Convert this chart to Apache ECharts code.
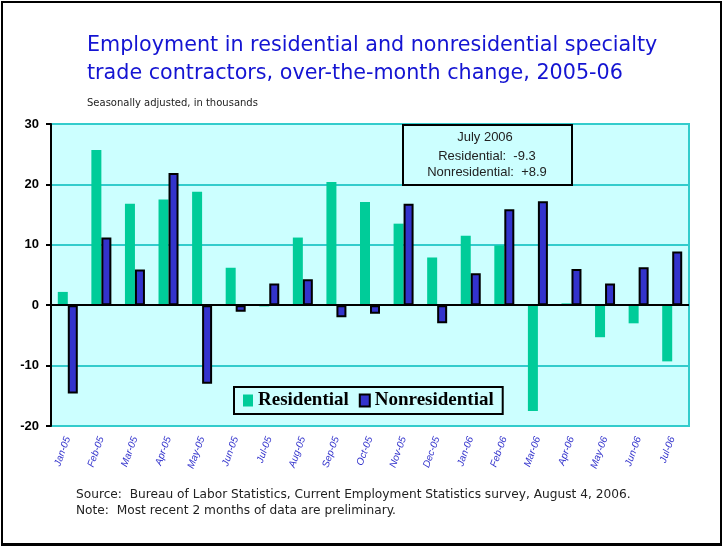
<!DOCTYPE html>
<html>
<head>
<meta charset="utf-8">
<script src="https://cdn.jsdelivr.net/npm/echarts@6/dist/echarts.min.js"></script>
<style>
  html, body { margin: 0; padding: 0; background: #fff; }
  #chart { position: absolute; left: 0; top: 0; width: 722px; height: 546px; }
  #frame {
    position: absolute; left: 1px; top: 1px;
    width: 717px; height: 540px;
    border: 2px solid #000; border-bottom-width: 3px;
    pointer-events: none; z-index: 5;
  }
</style>
</head>
<body>
<div id="chart"></div>
<div id="frame"></div>
<script>
// months, Jan-05 .. Jul-06
const months = ['Jan-05','Feb-05','Mar-05','Apr-05','May-05','Jun-05','Jul-05','Aug-05','Sep-05','Oct-05',
                'Nov-05','Dec-05','Jan-06','Feb-06','Mar-06','Apr-06','May-06','Jun-06','Jul-06'];
// over-the-month change, thousands
const residential =    [2.2, 25.7, 16.8, 17.5, 18.8, 6.2, -0.2, 11.2, 20.4, 17.1,
                        13.5, 7.9, 11.5, 9.9, -17.5, 0.3, -5.3, -3.0, -9.3];
const nonresidential = [-14.6, 11.2, 5.9, 21.9, -13.0, -1.1, 3.6, 4.3, -2.0, -1.4,
                        16.8, -3.0, 5.3, 15.9, 17.2, 6.0, 3.6, 6.3, 8.9];
const yTicks = [-20, -10, 0, 10, 20, 30];

const chart = echarts.init(document.getElementById('chart'));
const sans = '"Liberation Sans", Arial, sans-serif';
const wide = '"DejaVu Sans", Verdana, sans-serif';

const option = {
  animation: false,
  title: {
    text: 'Employment in residential and nonresidential specialty\ntrade contractors, over-the-month change, 2005-06',
    left: 82,
    top: 27,
    textAlign: 'left',
    textStyle: { color: '#1414D2', fontSize: 20.7, fontWeight: 'normal', fontFamily: wide, lineHeight: 28 }
  },
  grid: {
    show: true,
    left: 51, top: 124, right: 33, bottom: 120,
    backgroundColor: '#CCFFFF',
    borderColor: '#33CCCC',
    borderWidth: 2
  },
  legend: {
    data: ['Residential', 'Nonresidential'],
    left: 234, top: 387,
    padding: [4, 9, 4, 9],
    itemGap: 10,
    itemWidth: 10, itemHeight: 12,
    icon: 'rect',
    backgroundColor: '#CCFFFF',
    borderColor: '#000',
    borderWidth: 2,
    borderRadius: 0,
    textStyle: { fontFamily: '"Liberation Serif", "Times New Roman", serif', fontWeight: 'bold', fontSize: 19, color: '#000' }
  },
  xAxis: {
    type: 'category',
    data: months,
    axisLine: { onZero: false, show: false },
    axisTick: { show: false },
    axisLabel: {
      interval: 0, rotate: 70, margin: 11,
      color: '#3333CC', fontSize: 10, fontStyle: 'italic', fontFamily: sans
    },
    splitLine: { show: false }
  },
  yAxis: {
    type: 'value',
    min: -20, max: 30, interval: 10,
    axisLine: { show: true, lineStyle: { color: '#000', width: 2 } },
    axisTick: { show: true, length: 5, lineStyle: { color: '#000', width: 2 } },
    axisLabel: {
      margin: 12, color: '#000', fontSize: 13, fontWeight: 'bold', fontFamily: sans,
      formatter: v => yTicks.includes(v) ? String(v) : ''
    },
    splitLine: { show: true, lineStyle: { color: '#33CCCC', width: 2 } }
  },
  series: [
    {
      name: 'Residential',
      type: 'bar',
      data: residential,
      barWidth: 10,
      barGap: '0%',
      itemStyle: { color: '#00CC99' },
      markLine: {
        silent: true,
        symbol: 'none',
        label: { show: false },
        lineStyle: { color: '#000', width: 2, type: 'solid' },
        data: [{ yAxis: 0 }]
      }
    },
    {
      name: 'Nonresidential',
      type: 'bar',
      data: nonresidential,
      barWidth: 10,
      barGap: '0%',
      itemStyle: { color: '#3333CC', borderColor: '#000', borderWidth: 2 }
    }
  ],
  graphic: [
    {
      type: 'text', left: 87, top: 98,
      style: { text: 'Seasonally adjusted, in thousands', fill: '#222', font: '10px ' + wide }
    },
    {
      type: 'group', left: 402, top: 124, z: 100,
      children: [
        { type: 'rect', shape: { x: 0, y: 0, width: 169, height: 60 }, z: 100,
          style: { fill: '#CCFFFF', stroke: '#000', lineWidth: 2 } },
        { type: 'text', x: 82, y: 6, z: 101,
          style: { text: 'July 2006', fill: '#222', font: '13px ' + sans, align: 'center' } },
        { type: 'text', x: 84, y: 25, z: 101,
          style: { text: 'Residential:  -9.3', fill: '#222', font: '13px ' + sans, align: 'center' } },
        { type: 'text', x: 84, y: 41, z: 101,
          style: { text: 'Nonresidential:  +8.9', fill: '#222', font: '13px ' + sans, align: 'center' } }
      ]
    },
    {
      type: 'text', left: 76, top: 487,
      style: {
        text: 'Source:  Bureau of Labor Statistics, Current Employment Statistics survey, August 4, 2006.\nNote:  Most recent 2 months of data are preliminary.',
        fill: '#222', font: '12.2px ' + wide, lineHeight: 16
      }
    }
  ]
};

chart.setOption(option);
</script>
</body>
</html>
